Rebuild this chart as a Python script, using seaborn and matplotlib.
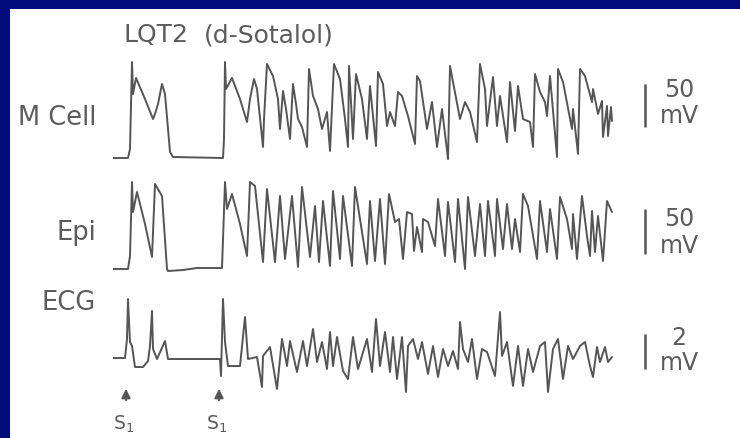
import matplotlib
matplotlib.use("Agg")
import matplotlib.pyplot as plt
import seaborn as sns
from matplotlib.patches import Rectangle

sns.set_theme(style="white")
plt.rcParams['font.family'] = ['DejaVu Sans']
plt.rcParams['mathtext.default'] = 'regular'

# ---------------- data (time in trace units, amplitude above rest) -----------
title_left = "LQT2"
title_right = "(d-Sotalol)"
trace_labels = ["M Cell", "Epi", "ECG"]
scale_numbers = ["50", "50", "2"]
scale_unit = "mV"
stim_label = "S$_{1}$"
stim_times = [13, 106]

m_t = [0, 15, 17, 19, 20, 23, 32, 40, 42, 45, 49, 52, 57, 60, 110, 111, 112, 113, 119, 127,
       134, 137, 141, 144, 150, 151, 154, 160, 165, 167, 170, 173, 177, 180, 183, 185, 189, 194, 196, 200,
       205, 209, 214, 217, 221, 227, 232, 235, 236, 240, 243, 249, 254, 257, 263, 265, 270, 274, 277, 282,
       285, 289, 295, 302, 304, 307, 314, 319, 324, 329, 335, 337, 340, 347, 352, 357, 364, 367, 372, 374,
       380, 384, 387, 394, 397, 402, 405, 410, 417, 420, 422, 427, 432, 434, 437, 444, 445, 450, 459, 460,
       465, 467, 472, 479, 480, 485, 489, 490, 494, 495, 498, 499]
m_v = [0, 0, 9, 96, 64, 80, 59, 39, 44, 54, 74, 64, 6, 1, 0, 19, 96, 69, 80, 59,
       36, 59, 79, 69, 11, 39, 94, 82, 59, 29, 67, 49, 19, 74, 54, 39, 31, 11, 89, 62,
       49, 29, 46, 7, 94, 79, 39, 11, 92, 19, 84, 59, 19, 72, 12, 86, 74, 32, 46, 32,
       66, 62, 42, 14, 82, 77, 29, 56, 11, 49, -1, 92, 76, 39, 56, 46, 16, 94, 69, 32,
       81, 32, 62, 16, 76, 27, 72, 39, 36, 11, 84, 66, 56, 42, 82, 1, 89, 76, 29, 49,
       4, 89, 82, 56, 69, 44, 57, 21, 52, 22, 51, 37]

e_t = [0, 15, 17, 19, 20, 24, 32, 39, 42, 49, 54, 55, 70, 84, 109, 112, 114, 119, 127, 134,
       137, 142, 150, 154, 162, 167, 172, 179, 185, 189, 197, 202, 206, 210, 217, 220, 227, 230, 239, 242,
       254, 257, 262, 267, 272, 276, 282, 286, 290, 294, 299, 301, 304, 309, 310, 315, 322, 325, 332, 335,
       342, 345, 352, 355, 362, 367, 372, 375, 382, 384, 390, 394, 399, 402, 407, 410, 415, 424, 427, 434,
       437, 444, 447, 454, 459, 460, 464, 469, 474, 477, 479, 482, 485, 490, 494, 499]
e_v = [0, 0, 13, 87, 57, 77, 45, 12, 85, 73, 0, -2, -1, 1, 1, 87, 60, 75, 45, 13,
       87, 83, 7, 80, 7, 73, 10, 73, 2, 82, 12, 63, 7, 68, 3, 78, 10, 73, 3, 82,
       5, 68, 8, 70, 5, 75, 47, 50, 10, 57, 55, 18, 42, 17, 50, 47, 23, 70, 13, 67,
       7, 70, 0, 72, 13, 65, 13, 68, 13, 70, 20, 65, 20, 50, 17, 75, 63, 10, 68, 17,
       60, 10, 72, 50, 20, 55, 10, 73, 33, 13, 58, 17, 53, 8, 68, 57]

g_t = [0, 12, 14, 15, 16, 17, 19, 22, 30, 35, 37, 39, 40, 44, 52, 55, 107, 108, 110, 112,
       115, 127, 132, 135, 144, 149, 150, 157, 164, 169, 174, 177, 184, 190, 194, 200, 204, 209, 214, 217,
       220, 224, 230, 235, 240, 245, 254, 259, 263, 267, 272, 277, 280, 284, 289, 293, 295, 300, 305, 309,
       315, 320, 325, 330, 335, 340, 345, 347, 350, 355, 359, 364, 369, 374, 382, 387, 389, 394, 400, 405,
       410, 415, 420, 427, 432, 435, 440, 445, 450, 455, 460, 467, 472, 477, 480, 484, 487, 492, 495, 499]
g_v = [0, 0, 19, 59, 36, 16, 12, -9, -9, -3, 12, 47, 9, -1, 17, -1, -1, -18, 59, 16,
       -8, -8, 41, -1, 1, -29, 2, 11, -31, 19, -8, 17, -14, 17, -8, 29, -4, 16, -11, 26,
       -8, 21, -13, -21, 21, -11, 19, -14, 39, -8, 26, -14, 21, -21, 21, -34, 12, 19, -1, 16,
       -16, 12, -19, 9, -8, 7, -11, 36, 9, -4, 19, -21, 9, 6, -18, 46, 2, 16, -28, 12,
       -28, 9, -14, 12, 16, -34, 9, 19, -21, 12, -1, 12, 16, -8, -19, 11, -4, 11, -4, 1]

# scale bars (in each trace's amplitude units)
scale_bar_t = 532
scale_bar_ranges = [(31, 74), (15, 60), (-11, 24)]

# ---------------- styling / layout ------------------------------------------
BLUE = '#030c7c'
TRACE = '#555555'
TXT = '#5c5c5c'
W, H = 740, 439

fig = plt.figure(figsize=(W / 100, H / 100), dpi=100, facecolor=BLUE)
bg = fig.add_axes([0, 0, 1, 1])
bg.set_xlim(0, W)
bg.set_ylim(H, 0)
bg.axis('off')
bg.add_patch(Rectangle((10, 10), W - 10, H - 10, facecolor='white', edgecolor='none'))

x0 = 113
# (top px, bottom px, baseline px) for each trace panel
panels = [(55, 165, 159), (165, 280, 270), (280, 439, 359)]
series = [(m_t, m_v), (e_t, e_v), (g_t, g_v)]
axes = []
for (top, bot, base), (t, v), (lo, hi) in zip(panels, series, scale_bar_ranges):
    ax = fig.add_axes([x0 / W, 1 - bot / H, (W - x0) / W, (bot - top) / H])
    ax.patch.set_alpha(0)
    sns.lineplot(x=t, y=v, ax=ax, color=TRACE, lw=1.4, sort=False, estimator=None)
    for ln in ax.get_lines():
        ln.set_solid_joinstyle('round')
    ax.set_xlim(0, W - x0)
    ax.set_ylim(base - bot, base - top)
    ax.set_axis_off()
    ax.plot([scale_bar_t, scale_bar_t], [lo, hi], color=TRACE, lw=1.8, solid_capstyle='butt')
    axes.append(ax)

# stimulus arrows and labels on the ECG panel
ecg = axes[2]
for st in stim_times:
    ecg.annotate('', xy=(st, -28), xytext=(st, -45), annotation_clip=False,
                 arrowprops=dict(arrowstyle='-|>', color=TRACE, lw=1.5, mutation_scale=13))
    ecg.text(st - 2, -65, stim_label, ha='center', va='center', fontsize=13.5,
             color=TXT, clip_on=False)

# texts
bg.text(124, 42, title_left, ha='left', va='baseline', fontsize=18, color=TXT)
bg.text(204, 42, title_right, ha='left', va='baseline', fontsize=18, color=TXT)

label_y = [118, 233, 303]
for lab, y in zip(trace_labels, label_y):
    bg.text(96, y, lab, ha='right', va='center', fontsize=18.5, color=TXT)

num_y = [90, 219, 338]
unit_y = [116, 246, 363]
for num, ny, uy in zip(scale_numbers, num_y, unit_y):
    bg.text(679, ny, num, ha='center', va='center', fontsize=17, color=TXT)
    bg.text(679, uy, scale_unit, ha='center', va='center', fontsize=17, color=TXT)

fig.savefig('out.png', dpi=100, facecolor=BLUE)
